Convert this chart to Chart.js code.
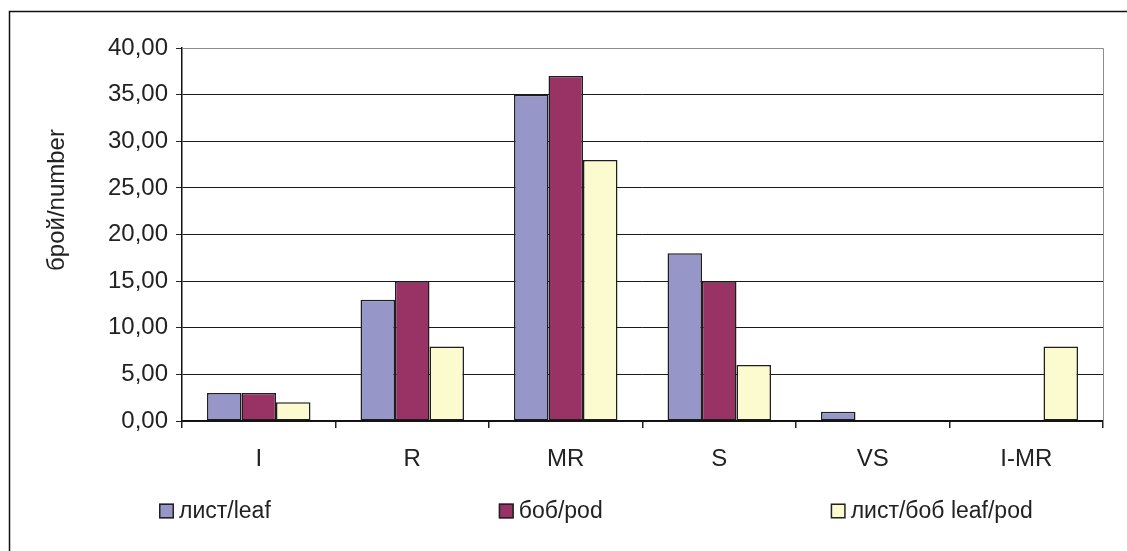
<!DOCTYPE html>
<html>
<head>
<meta charset="utf-8">
<script src="https://cdn.jsdelivr.net/npm/chart.js@4.4.1/dist/chart.umd.min.js"></script>
<style>
  html, body { margin: 0; padding: 0; background: #ffffff; }
  #wrap { width: 1127px; height: 551px; position: relative; }
</style>
</head>
<body>
<div id="wrap"><canvas id="chart" width="1127" height="551"></canvas></div>
<script>
// Categories and series values
const categories = ['I', 'R', 'MR', 'S', 'VS', 'I-MR'];
const leaf = [3, 13, 35, 18, 1, 0];
const pod = [3, 15, 37, 15, 0, 0];
const leafPod = [2, 8, 28, 6, 0, 8];
const seriesNames = ['лист/leaf', 'боб/pod', 'лист/боб leaf/pod'];
const seriesColors = ['#9696c9', '#993366', '#fcfacf'];
const yTitle = 'брой/number';
const yMin = 0;
const yMax = 40;
const yStep = 5;

const FONT = '"Liberation Sans", Arial, sans-serif';
const TEXT = '#222222';

// Outer frame, plot frame, axis title and legend
const decorations = {
  id: 'decorations',
  beforeDatasetsDraw(chart) {
    const { ctx, chartArea: a } = chart;
    ctx.save();
    ctx.strokeStyle = '#8c8c8c';
    ctx.lineWidth = 1;
    ctx.beginPath();
    ctx.moveTo(a.left, Math.round(a.top) + 0.5);
    ctx.lineTo(Math.round(a.right) + 0.5, Math.round(a.top) + 0.5);
    ctx.lineTo(Math.round(a.right) + 0.5, a.bottom);
    ctx.stroke();
    ctx.restore();
  },
  afterDraw(chart) {
    const { ctx } = chart;
    ctx.save();
    // chart frame
    ctx.strokeStyle = '#111111';
    ctx.lineWidth = 1.5;
    ctx.beginPath();
    ctx.moveTo(9.5, 551);
    ctx.lineTo(9.5, 11.5);
    ctx.lineTo(1127, 11.5);
    ctx.stroke();

    // y axis title
    ctx.fillStyle = TEXT;
    ctx.font = '24px ' + FONT;
    ctx.textAlign = 'center';
    ctx.textBaseline = 'middle';
    ctx.translate(57, 200);
    ctx.rotate(-Math.PI / 2);
    ctx.fillText(yTitle, 0, 0);
    ctx.restore();

    // legend
    ctx.save();
    ctx.font = '23px ' + FONT;
    ctx.textAlign = 'left';
    ctx.textBaseline = 'middle';
    const cy = 511;
    let x = 159;
    chart.data.datasets.forEach((ds) => {
      ctx.fillStyle = ds.backgroundColor;
      ctx.fillRect(x, cy - 7.5, 15, 15);
      ctx.strokeStyle = '#222222';
      ctx.lineWidth = 1.5;
      ctx.strokeRect(x + 0.75, cy - 6.75, 13.5, 13.5);
      ctx.fillStyle = TEXT;
      ctx.fillText(ds.label, x + 20, cy + 1);
      x += 20 + ctx.measureText(ds.label).width + 228;
    });
    ctx.restore();
  }
};

const mkSet = (label, data, color) => ({
  label,
  data,
  backgroundColor: color,
  borderColor: '#1e1e1e',
  borderWidth: (c) => (c.raw === 0 ? 0 : 1.5),
  borderSkipped: false,
  categoryPercentage: 0.674,
  barPercentage: 1.0
});

new Chart(document.getElementById('chart'), {
  type: 'bar',
  data: {
    labels: categories,
    datasets: [
      mkSet(seriesNames[0], leaf, seriesColors[0]),
      mkSet(seriesNames[1], pod, seriesColors[1]),
      mkSet(seriesNames[2], leafPod, seriesColors[2])
    ]
  },
  options: {
    responsive: false,
    animation: false,
    devicePixelRatio: 1,
    layout: { padding: { left: 0, top: 48, right: 24, bottom: 0 } },
    plugins: {
      legend: { display: false },
      tooltip: { enabled: false }
    },
    scales: {
      x: {
        offset: true,
        grid: {
          offset: true,
          drawOnChartArea: false,
          drawTicks: true,
          tickLength: 7,
          color: '#222222',
          lineWidth: 1.5
        },
        border: { color: '#111111', width: 1.5 },
        ticks: {
          color: TEXT,
          font: { family: FONT, size: 24 },
          padding: 17,
          maxRotation: 0
        },
        afterFit(scale) { scale.height = 130; }
      },
      y: {
        min: yMin,
        max: yMax,
        grid: {
          color: (c) => (c.tick && c.tick.value === yMax ? '#8c8c8c' : '#1a1a1a'),
          lineWidth: 1,
          tickLength: 6,
          tickColor: '#222222',
          drawTicks: true
        },
        border: { color: '#111111', width: 1.5 },
        ticks: {
          stepSize: yStep,
          color: TEXT,
          font: { family: FONT, size: 24 },
          padding: 8,
          callback: (v) => v.toFixed(2).replace('.', ',')
        },
        afterFit(scale) { scale.width = 182; }
      }
    }
  },
  plugins: [decorations]
});
</script>
</body>
</html>
